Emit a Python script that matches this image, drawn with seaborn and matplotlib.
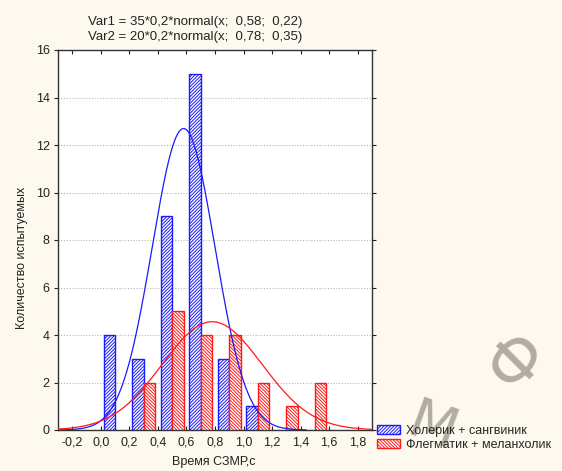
import numpy as np
import pandas as pd
import matplotlib
matplotlib.use("Agg")
import matplotlib.pyplot as plt
import matplotlib.patches as mpatches
from matplotlib.ticker import FuncFormatter
import seaborn as sns

# ---- data ----
group_labels = ["Холерик + сангвиник", "Флегматик + меланхолик"]
centers_blue = [0.1, 0.3, 0.5, 0.7, 0.9, 1.1]
counts_blue = [4, 3, 9, 15, 3, 1]
centers_red = [0.3, 0.5, 0.7, 0.9, 1.1, 1.3, 1.5]
counts_red = [2, 5, 4, 4, 2, 1, 2]

# fitted normal curves as stated in the chart header: N * bin * normal(x; mean; sd)
fit_n = [35, 20]
fit_bin = 0.2
fit_mean = [0.58, 0.78]
fit_sd = [0.22, 0.35]
fit_xmax = [1.44, 1.9]

x_ticks = [-0.2, 0.0, 0.2, 0.4, 0.6, 0.8, 1.0, 1.2, 1.4, 1.6, 1.8]
y_ticks = [0, 2, 4, 6, 8, 10, 12, 14, 16]
header_lines = ["Var1 = 35*0,2*normal(x;  0,58;  0,22)",
                "Var2 = 20*0,2*normal(x;  0,78;  0,35)"]
x_label = "Время СЗМР,с"
y_label = "Количество испытуемых"

colors = ["#1a1aff", "#ff1a1a"]
hatches = ["/" * 10, "\\" * 10]
bg = "#fdf9ee"

df = pd.DataFrame({
    "center": centers_blue + centers_red,
    "count": counts_blue + counts_red,
    "group": [group_labels[0]] * len(centers_blue) + [group_labels[1]] * len(centers_red),
})

sns.set_style("white")
plt.rcParams["font.family"] = ["Liberation Sans", "DejaVu Sans"]
plt.rcParams["hatch.linewidth"] = 0.7

fig = plt.figure(figsize=(5.62, 4.71), dpi=100, facecolor=bg)
ax = fig.add_axes([58 / 562, 1 - 430 / 471, (372 - 58) / 562, (430 - 50) / 471])
ax.set_facecolor("white")

sns.barplot(data=df, x="center", y="count", hue="group", hue_order=group_labels,
            palette=colors, native_scale=True, width=0.8, dodge=True, gap=0,
            errorbar=None, legend=False, ax=ax, zorder=3)

for cont, c, h in zip(ax.containers, colors, hatches):
    for p in cont:
        p.set_facecolor("white")
        p.set_edgecolor(c)
        p.set_hatch(h)
        p.set_linewidth(1.0)

for n, m, s, xm, c in zip(fit_n, fit_mean, fit_sd, fit_xmax, colors):
    xs = np.linspace(-0.3, xm, 400)
    ys = n * fit_bin * np.exp(-0.5 * ((xs - m) / s) ** 2) / (s * np.sqrt(2 * np.pi))
    sns.lineplot(x=xs, y=ys, color=c, lw=0.9, ax=ax, zorder=4)

ax.set_xlim(-0.3, 1.9)
ax.set_ylim(0, 16)
ax.set_xticks(x_ticks)
ax.set_yticks(y_ticks)
ax.xaxis.set_major_formatter(FuncFormatter(lambda v, p: f"{v:.1f}".replace(".", ",").replace("-0,0", "0,0")))
ax.yaxis.set_major_formatter(FuncFormatter(lambda v, p: f"{int(round(v))}"))
ax.grid(axis="y", linestyle=(0, (1, 1.5)), color="#b8b8b8", lw=0.8, zorder=0)
ax.set_axisbelow(True)

fs = 9
ax.tick_params(axis="y", which="both", left=True, right=True, direction="out",
               length=3, width=0.8, labelsize=fs, colors="#222222", pad=3)
ax.tick_params(axis="y", right=True, labelright=False)
ax.tick_params(axis="x", which="both", bottom=True, top=True, direction="in",
               length=3, width=0.8, labelsize=fs, colors="#222222", pad=5)
for sp in ax.spines.values():
    sp.set_color("#333333")
    sp.set_linewidth(1.0)
    sp.set_visible(True)
ax.set_xlabel("")
ax.set_ylabel("")

fig.text(22 / 562, 1 - 258 / 471, y_label, rotation=90, ha="center", va="center",
         fontsize=fs, color="#222222")
fig.text(214 / 562, 1 - 462 / 471, x_label, ha="center", va="center",
         fontsize=fs, color="#222222")
fig.text(195 / 562, 1 - 22 / 471, header_lines[0], ha="center", va="center",
         fontsize=9.5, color="#222222")
fig.text(195 / 562, 1 - 37 / 471, header_lines[1], ha="center", va="center",
         fontsize=9.5, color="#222222")

# watermark
fig.text(518 / 562, 1 - 362 / 471, "Ф", rotation=45, ha="center", va="center",
         fontsize=46, color="#b2ada3", family="DejaVu Sans", zorder=0)
fig.text(432 / 562, 1 - 428 / 471, "М", rotation=-20, ha="center", va="center",
         fontsize=40, color="#b2ada3", family="DejaVu Sans", zorder=0)

handles = [mpatches.Patch(facecolor="white", edgecolor=c, hatch=h, lw=1.0, label=l)
           for c, h, l in zip(colors, hatches, group_labels)]
fig.legend(handles=handles, loc="upper left", bbox_to_anchor=(377 / 562, 1 - 425 / 471),
           frameon=False, fontsize=fs, handlelength=1.8, handleheight=0.7,
           handletextpad=0.5, labelspacing=0.15, borderpad=0, borderaxespad=0)

fig.savefig("out.png", dpi=100, facecolor=bg)
